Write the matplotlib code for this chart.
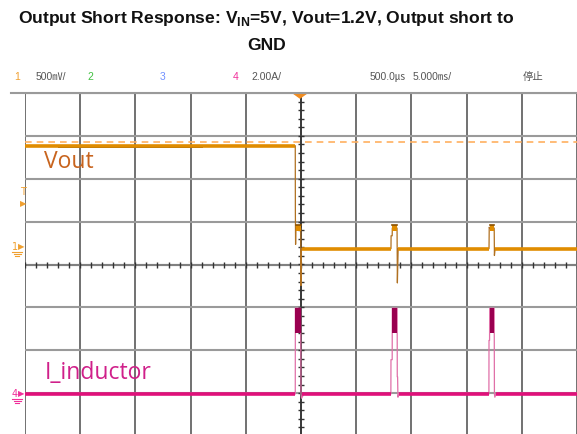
import numpy as np
import matplotlib
matplotlib.use("Agg")
import matplotlib.pyplot as plt

# ---------------- data ----------------
title_line1 = "Output Short Response: V$_{\\mathregular{IN}}$=5V, Vout=1.2V, Output short to"
title_line2 = "GND"

# time axis in ms (5 ms/div, 10 divisions)
time_per_div = 5.0
# Channel 1: Vout (V), 0.5 V/div
vout_scale = 0.5
vout_offset_div = 0.37
vout_t = [-25, -0.52, -0.51, -0.49, -0.47, -0.02, 0.0, 0.03, 0.08, 8.15, 8.16, 8.26, 8.27,
          8.70, 8.73, 8.80, 17.03, 17.05, 17.08, 17.50, 17.52, 17.58, 25]
vout_v = [1.2, 1.2, 0.42, 0.05, 0.24, 0.24, -0.43, 0.0, 0.0, 0.0, 0.15, 0.15, 0.24,
          0.24, -0.40, 0.0, 0.0, 0.25, 0.24, 0.24, -0.08, 0.0, 0.0]
vout_levels = [(-25, -0.52, 1.2), (0.05, 8.15, 0.0), (8.80, 17.03, 0.0), (17.58, 25, 0.0)]
vout_bursts = [(-0.47, -0.02), (8.27, 8.70), (17.09, 17.50)]
vout_burst_lo, vout_burst_hi = 0.21, 0.28
vout_ref_level = 1.24

# Channel 4: inductor current (A), 2 A/div
il_scale = 2.0
il_offset_div = -3.02
il_t = [-25, -0.52, -0.51, -0.03, 0.0, 0.05, 0.25, 8.14, 8.15, 8.26, 8.27, 8.71, 8.72, 8.75,
        8.78, 8.85, 17.02, 17.03, 17.08, 17.09, 17.50, 17.52, 17.56, 17.65, 25]
il_v = [0, 0, 4.0, 4.0, 0, -0.2, 0, 0, 1.6, 1.6, 4.0, 4.0, 0.8, 0.8,
        -0.15, 0, 0, 2.5, 2.5, 4.0, 4.0, 0, -0.15, 0, 0]
il_levels = [(-25, -0.52, 0.0), (0.1, 8.14, 0.0), (8.85, 17.02, 0.0), (17.65, 25, 0.0)]
il_bursts = [(-0.51, -0.03), (8.27, 8.71), (17.09, 17.50)]
il_burst_lo, il_burst_hi = 2.84, 4.0

header_items = [("1", "#f0a030"), ("500㎷/", "#555555"), ("2", "#40c040"), ("3", "#7090ff"),
                ("4", "#f0309a"), ("2.00A/", "#555555"), ("500.0㎲", "#555555"),
                ("5.000㎳/", "#555555"), ("停止", "#555555")]
header_x = [14, 36, 87, 160, 233, 251, 370, 413, 523]

# ---------------- figure ----------------
W, H = 577, 435
fig = plt.figure(figsize=(W / 100, H / 100), dpi=100)
fig.patch.set_facecolor("white")

def fx(x):
    return x / W

def fy(y):
    return 1 - y / H

plt.rcParams['mathtext.fontset'] = 'custom'
plt.rcParams['mathtext.rm'] = 'Liberation Sans:bold'

title_font = ['Liberation Sans']
fig.text(fx(266), fy(19), title_line1, ha='center', va='center', fontsize=12.6,
         fontweight='bold', family=title_font, color='#111111')
fig.text(fx(267), fy(45), title_line2, ha='center', va='center', fontsize=12.6,
         fontweight='bold', family=title_font, color='#111111')

hdr_font = ['Liberation Sans', 'Noto Sans CJK SC']
for (txt, col), x in zip(header_items, header_x):
    fig.text(fx(x), fy(77), txt, ha='left', va='center', fontsize=7.5, color=col, family=hdr_font)

# plot area: x 25..577 px, y 94..437 px
top_px, bot_px = 94, 437
ax = fig.add_axes([fx(25), fy(bot_px), fx(577 - 25), (bot_px - top_px) / H])
ax.set_xlim(-25, 25)
ax.set_ylim(-4, 4)
for s in ax.spines.values():
    s.set_visible(False)
ax.set_xticks(np.arange(-25, 26, time_per_div))
ax.set_yticks(np.arange(-4, 5, 1))
ax.tick_params(length=0, labelbottom=False, labelleft=False)
ax.xaxis.grid(True, color='#4a4a4a', lw=1.1)
ax.yaxis.grid(True, color='#9a9a9a', lw=1.5)
ax.set_axisbelow(True)

# top border line extends to the left
fig.add_artist(plt.Line2D([fx(11), 1], [fy(94), fy(94)], color='#9a9a9a', lw=1.5))

# center axes with minor ticks
ax.axhline(0, color='#808080', lw=1.5, zorder=1)
ax.axvline(0, color='#333333', lw=1.2, zorder=1)
mx = np.arange(-25, 25.01, 1.0)
ax.plot(mx, np.zeros_like(mx), ls='none', marker='|', ms=4.5, mew=1.0, color='#333333', zorder=1)
my = np.arange(-4, 4.01, 0.2)
ax.plot(np.zeros_like(my), my, ls='none', marker='_', ms=4.5, mew=1.0, color='#333333', zorder=1)

def v1(v):
    return np.asarray(v) / vout_scale + vout_offset_div

def v4(v):
    return np.asarray(v) / il_scale + il_offset_div

# reference dashed line
ax.axhline(v1(vout_ref_level), color='#ffb060', lw=1.2, ls=(0, (4, 3)), zorder=2)

# Vout trace
ax.plot(vout_t, v1(vout_v), color='#b07020', lw=0.9, zorder=3)
ax.plot([-22, -9], v1([1.19, 1.19]), color='#6a4a20', lw=0.7, zorder=3)
for t0, t1, lv in vout_levels:
    ax.plot([t0, t1], v1([lv, lv]), color='#e08c00', lw=2.6, solid_capstyle='butt', zorder=4)
for t0, t1 in vout_bursts:
    ax.fill_between([t0, t1], v1(vout_burst_lo), v1(vout_burst_hi), color='#e08c00', lw=0, zorder=4)
    ax.plot([t0, t1], v1([vout_burst_hi, vout_burst_hi]), color='#8a5000', lw=1.2, zorder=5)

# Inductor current trace
ax.plot(il_t, v4(il_v), color='#e070a8', lw=0.9, zorder=3)
for t0, t1, lv in il_levels:
    ax.plot([t0, t1], v4([lv, lv]), color='#e0107a', lw=2.6, solid_capstyle='butt', zorder=4)
for t0, t1 in il_bursts:
    ax.fill_between([t0, t1], v4(il_burst_lo), v4(il_burst_hi), color='#9a0050', lw=0, zorder=4)

# trace labels
label_font = ['Open Sans', 'DejaVu Sans']
fig.text(fx(44), fy(162), "Vout", ha='left', va='center', fontsize=16.5, color='#c8641e', family=label_font)
fig.text(fx(45), fy(373), "I_inductor", ha='left', va='center', fontsize=16.5, color='#d0208a', family=label_font)

# left channel markers
fig.text(fx(20), fy(192), "T", ha='left', va='center', fontsize=7, color='#f0a030')
fig.text(fx(20), fy(204), "▶", ha='left', va='center', fontsize=6, color='#f0a030')
fig.text(fx(12), fy(247), "1", ha='left', va='center', fontsize=7, color='#f0a030')
fig.text(fx(18), fy(247), "▶", ha='left', va='center', fontsize=6, color='#f0a030')
fig.text(fx(12), fy(394), "4", ha='left', va='center', fontsize=7, color='#f0309a')
fig.text(fx(18), fy(394), "▶", ha='left', va='center', fontsize=6, color='#f0309a')
for yy, col in ((253, '#f0a030'), (400, '#f0309a')):
    for k, w in enumerate((5, 3.5, 2)):
        fig.add_artist(plt.Line2D([fx(17 - w), fx(17 + w)], [fy(yy + 2 * k), fy(yy + 2 * k)], color=col, lw=0.8))

# trigger position marker
fig.add_artist(plt.Polygon([[fx(293), fy(94)], [fx(307), fy(94)], [fx(300), fy(99)]],
                           closed=True, color='#f08c20'))

fig.savefig("out.png", dpi=100)
